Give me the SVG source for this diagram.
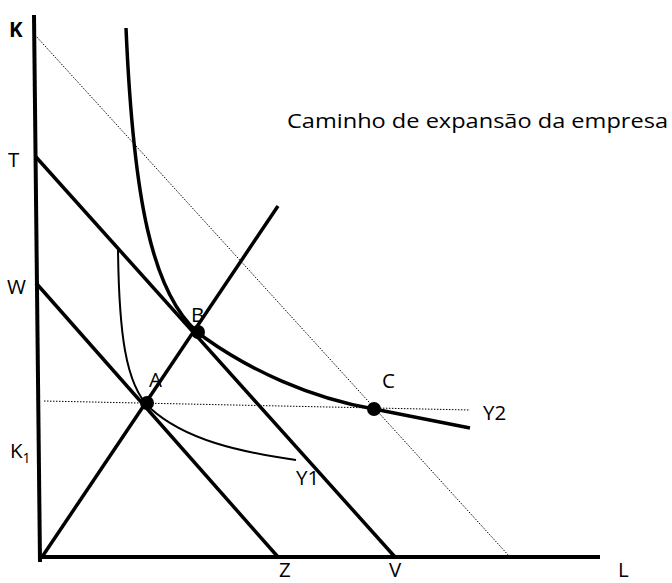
<svg xmlns="http://www.w3.org/2000/svg" width="672" height="583" viewBox="0 0 672 583">
<style>
.ax{stroke:#000;stroke-width:4;fill:none}
.ln{stroke:#000;stroke-width:3.5;fill:none}
.thin{stroke:#000;stroke-width:2;fill:none}
.dot{stroke:#000;stroke-width:1;stroke-dasharray:1.5 1.5;fill:none}
text{font-family:"Open Sans","Liberation Sans",sans-serif;font-size:20.5px;fill:#000}
</style>
<rect width="672" height="583" fill="#fff"/>
<g id="connectors">
<path class="ax" d="M34,15 L40,562"/>
<path class="ax" d="M40,557 L600,557"/>
<path class="dot" d="M35,35 L510,557"/>
<path class="dot" d="M44,401 L470,410"/>
<path class="ln" d="M36,157 L395,557"/>
<path class="ln" d="M36,283 L278,557"/>
<path class="ln" d="M42,557 L278,206"/>
<path class="ln" d="M126,28 C133,190 150,300 205,338 C250,370 310,398 374,409 L470,428"/>
<path class="thin" d="M118,250 C119,330 125,385 150,408 C185,440 240,452 296,460"/>
</g>
<g id="A"><circle cx="147" cy="403" r="7"/><text x="149" y="387">A</text></g>
<g id="B"><circle cx="198" cy="332" r="7"/><text x="191" y="322">B</text></g>
<g id="C"><circle cx="374" cy="409" r="7"/><text x="382" y="388">C</text></g>
<g id="labels">
<text x="9" y="37" style="font-weight:bold">K</text>
<text x="8" y="167">T</text>
<text x="7" y="294">W</text>
<text x="10" y="458">K<tspan font-size="14" dy="5">1</tspan></text>
<text x="296" y="485">Y1</text>
<text x="483" y="420">Y2</text>
<text x="279" y="577">Z</text>
<text x="389" y="577">V</text>
<text x="618" y="577">L</text>
<text x="287" y="128" textLength="381" lengthAdjust="spacingAndGlyphs">Caminho de expansão da empresa</text>
</g>
</svg>
